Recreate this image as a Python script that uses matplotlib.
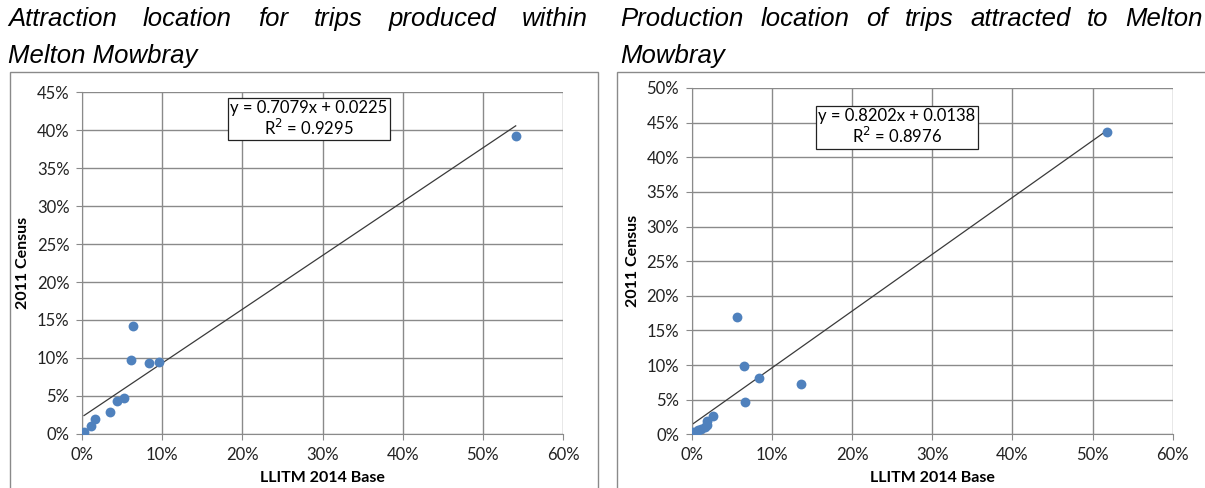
import matplotlib.pyplot as plt
from matplotlib.patches import Rectangle
from matplotlib.ticker import FuncFormatter, MultipleLocator

# Attraction location for trips produced within Melton Mowbray (% values)
left_x = [0.25, 1.1, 1.6, 3.5, 4.4, 5.2, 6.1, 6.4, 8.3, 9.6, 54.1]
left_y = [0.3, 1.1, 2.0, 2.9, 4.3, 4.8, 9.7, 14.2, 9.3, 9.5, 39.2]
left_fit = (0.7079, 0.0225, 0.9295)

# Production location of trips attracted to Melton Mowbray (% values)
right_x = [0.2, 0.5, 0.8, 1.2, 1.6, 1.9, 1.9, 2.7, 5.6, 6.5, 6.7, 8.4, 13.6, 51.8]
right_y = [0.4, 0.1, 0.6, 0.8, 1.0, 1.3, 1.9, 2.6, 16.9, 9.8, 4.7, 8.2, 7.3, 43.7]
right_fit = (0.8202, 0.0138, 0.8976)

left_title = ["Attraction location for trips produced within", "Melton Mowbray"]
right_title = ["Production location of trips attracted to Melton", "Mowbray"]

W, H = 1205, 488
fig = plt.figure(figsize=(W / 100, H / 100), dpi=100)
renderer = fig.canvas.get_renderer()

TITLE_FONT = dict(family="Liberation Sans", style="italic", size=18.5)
TICK_FONT = "Lato"
GRID = "#8a8a8a"
BLUE = "#4f81bd"


def px(x, y):
    return x / W, 1 - y / H


def justified(words, x0, x1, y):
    # place words so the line fills x0..x1, like justified text in Word
    texts = [fig.text(0, 0, w, va="baseline", **TITLE_FONT) for w in words]
    widths = [t.get_window_extent(renderer).width for t in texts]
    gap = (x1 - x0 - sum(widths)) / (len(words) - 1)
    x = x0
    for t, w in zip(texts, widths):
        t.set_position(px(x, y))
        x += w + gap


def chart(rect, xs, ys, fit, ymax, box_pos):
    ax = fig.add_axes(rect)
    ax.scatter(xs, ys, s=50, color=BLUE, zorder=3, linewidths=0)
    slope, icpt, r2 = fit
    x_line = [min(xs), max(xs)]
    ax.plot(x_line, [slope * v + icpt * 100 for v in x_line], color="#3a3a3a", lw=0.9, zorder=2)
    ax.set_xlim(0, 60)
    ax.set_ylim(0, ymax)
    ax.xaxis.set_major_locator(MultipleLocator(10))
    ax.yaxis.set_major_locator(MultipleLocator(5))
    pct = FuncFormatter(lambda v, p: f"{v:.0f}%")
    ax.xaxis.set_major_formatter(pct)
    ax.yaxis.set_major_formatter(pct)
    ax.grid(True, color=GRID, lw=1)
    ax.set_axisbelow(True)
    for s in ["top", "right"]:
        ax.spines[s].set_visible(False)
    for s in ["left", "bottom"]:
        ax.spines[s].set_color(GRID)
    ax.tick_params(length=4, color=GRID, labelsize=12, labelcolor="#222222", pad=5)
    for lab in ax.get_xticklabels() + ax.get_yticklabels():
        lab.set_family(TICK_FONT)
    ax.set_xlabel("LLITM 2014 Base", family=TICK_FONT, weight="bold", size=11.5, labelpad=6)
    ax.set_ylabel("2011 Census", family=TICK_FONT, weight="bold", size=11.5, labelpad=5)
    ax.text(box_pos[0], box_pos[1],
            f"y = {slope:.4f}x + {icpt:.4f}\nR$^2$ = {r2:.4f}",
            transform=ax.transAxes, ha="center", va="center", family=TICK_FONT,
            size=12, multialignment="center", linespacing=1.1,
            bbox=dict(boxstyle="square,pad=0.15", fc="white", ec="#222222", lw=0.9))
    return ax


# chart frames
fig.patches.append(Rectangle(px(10, 500), 588 / W, 428 / H, transform=fig.transFigure,
                             fill=False, ec="#8a8a8a", lw=1))
fig.patches.append(Rectangle(px(617, 500), 600 / W, 428 / H, transform=fig.transFigure,
                             fill=False, ec="#8a8a8a", lw=1))

chart([82 / W, 1 - 434 / H, 481 / W, 342 / H], left_x, left_y, left_fit, 45, (0.472, 0.921))
chart([691.7 / W, 1 - 434.3 / H, 481 / W, 346.3 / H], right_x, right_y, right_fit, 50, (0.427, 0.887))

justified(left_title[0].split(), 8, 588, 26)
fig.text(*px(8, 63), left_title[1], va="baseline", **TITLE_FONT)
justified(right_title[0].split(), 620, 1203, 26)
fig.text(*px(620, 63), right_title[1], va="baseline", **TITLE_FONT)

fig.savefig("out.png", dpi=100)
